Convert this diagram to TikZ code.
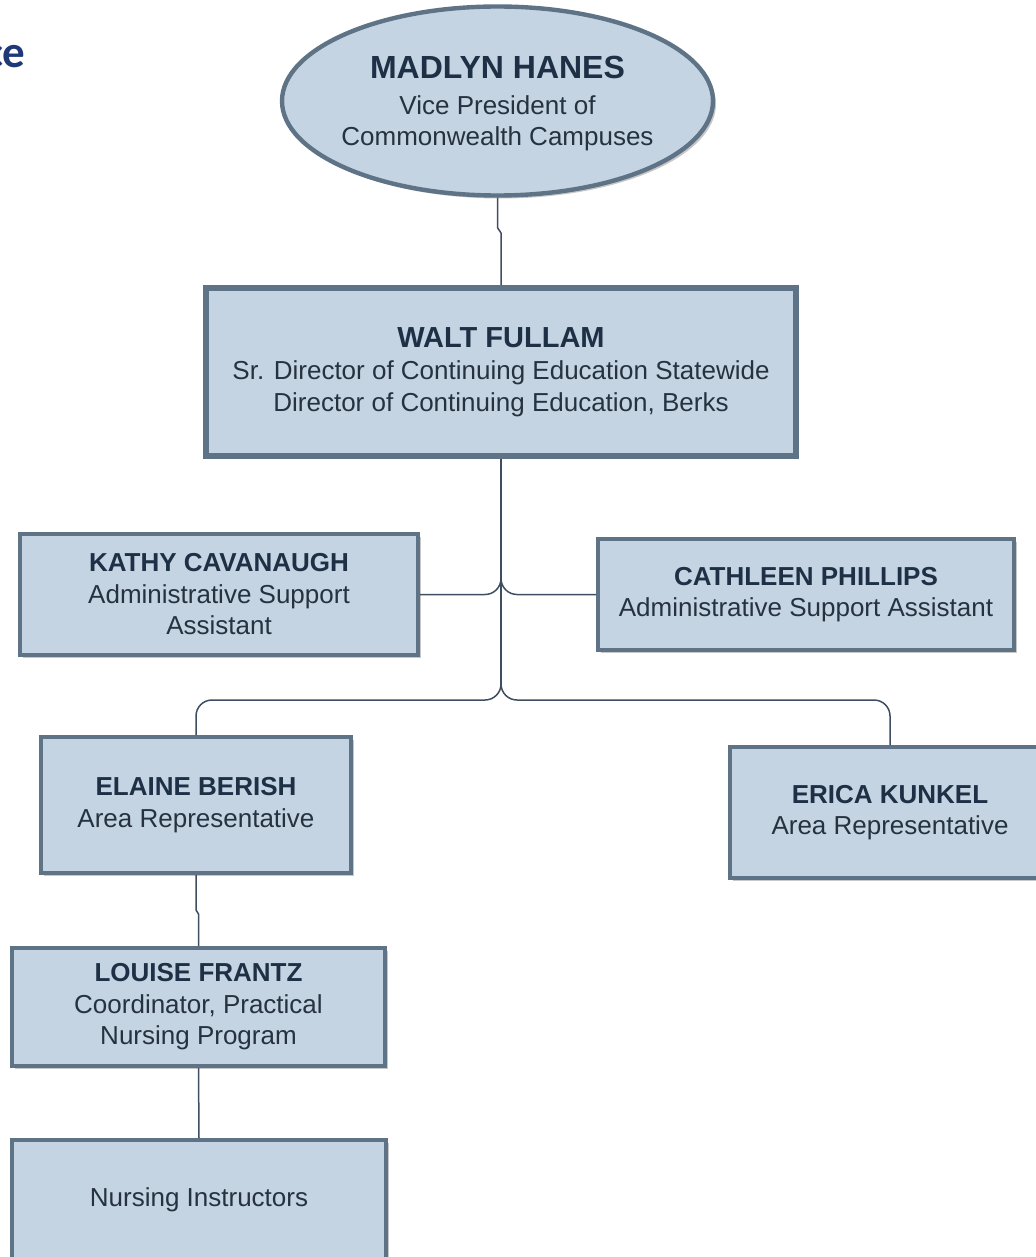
\documentclass[tikz,border=0pt]{standalone}
\usepackage{fontspec}
\setmainfont{Liberation Sans}
\newfontfamily\titlefont{Carlito}
\usetikzlibrary{shapes.geometric,shadows,calc}
\definecolor{boxfill}{RGB}{197,212,226}
\definecolor{boxedge}{RGB}{95,115,135}
\definecolor{namecol}{RGB}{30,48,70}
\definecolor{bodycol}{RGB}{38,50,64}
\definecolor{linecol}{RGB}{62,78,96}
\definecolor{titleblue}{RGB}{31,56,120}
\tikzset{
  boxshadow/.style={drop shadow={opacity=0.22, shadow xshift=1.5pt, shadow yshift=-1.5pt, fill=black}},
  orgbox/.style={draw=boxedge, fill=boxfill, line width=2pt, inner sep=0pt, align=center,
    text=bodycol, font=\fontsize{13}{15.75}\selectfont, boxshadow},
  link/.style={draw=linecol, line width=0.75pt},
}
\newcommand{\pname}[1]{{\bfseries\color{namecol}#1}}
\begin{document}
\begin{tikzpicture}[x=0.5pt, y=-0.5pt]
\useasboundingbox (0,0) rectangle (1036,1257);
\clip (0,0) rectangle (1036,1257);

% cut-off title fragment
\node (title) [anchor=base east, inner sep=0pt, text=titleblue, font=\titlefont\bfseries\fontsize{22.5}{27}\selectfont] at (26,68) {ce};

% top ellipse
\node (m) [ellipse, draw=boxedge, fill=boxfill, line width=2.2pt, minimum width=215.5pt, minimum height=94.5pt, inner sep=0pt, boxshadow] at (497.5,101) {};
\node (mtext) [align=center, text=bodycol, inner sep=0pt, font=\fontsize{13}{15.5}\selectfont] at (497.5,104)
  {{\fontsize{16}{18}\selectfont\pname{MADLYN HANES}}\\[2.5pt] Vice President of\\ Commonwealth Campuses};

% director box
\node (w) [orgbox, line width=3pt, minimum width=295pt, minimum height=84pt, font=\fontsize{13}{16}\selectfont] at (501,372)
  {{\fontsize{14.5}{16}\selectfont\pname{WALT FULLAM}}\\ Sr. Director of Continuing Education Statewide\\ Director of Continuing Education, Berks};

\node (k) [orgbox, minimum width=199pt, minimum height=60.5pt] at (219,594.5)
  {\pname{KATHY CAVANAUGH}\\ Administrative Support\\ Assistant};
\node (c) [orgbox, minimum width=208pt, minimum height=55.5pt] at (806,594.5)
  {\pname{CATHLEEN PHILLIPS}\\ Administrative Support Assistant};

\node (e1) [orgbox, minimum width=155pt, minimum height=68pt] at (196,805)
  {\pname{ELAINE BERISH}\\ Area Representative};
\node (e2) [orgbox, minimum width=160pt, minimum height=65.5pt] at (890,812.5)
  {\pname{ERICA KUNKEL}\\ Area Representative};

\node (lf) [orgbox, minimum width=186.5pt, minimum height=59pt] at (198.5,1007)
  {\pname{LOUISE FRANTZ}\\ Coordinator, Practical\\ Nursing Program};
\node (ni) [orgbox, minimum width=187pt, minimum height=60pt] at (199,1200)
  {Nursing Instructors};

% connectors
\coordinate (hubA) at (501,570);
\coordinate (hubB) at (501,684);
\coordinate (split) at (501,700);

\draw[link] (m.south) -- ++(0,30) -- ($(w.north)+(0,-52)$) -- (w.north);
\draw[link] (w.south) -- (hubB);
\draw[link, rounded corners=8pt] (k.east) -| (hubA);
\draw[link, rounded corners=8pt] (c.west) -| (hubA);
\draw[link, rounded corners=8pt] (e1.north) |- (split) -- (hubB);
\draw[link, rounded corners=8pt] (e2.north) |- (split) -- (hubB);
\draw[link] (e1.south) -- ++(0,35) -- ($(lf.north)+(0,-32)$) -- (lf.north);
\draw[link] (lf.south) -- (ni.north);
\end{tikzpicture}
\end{document}
